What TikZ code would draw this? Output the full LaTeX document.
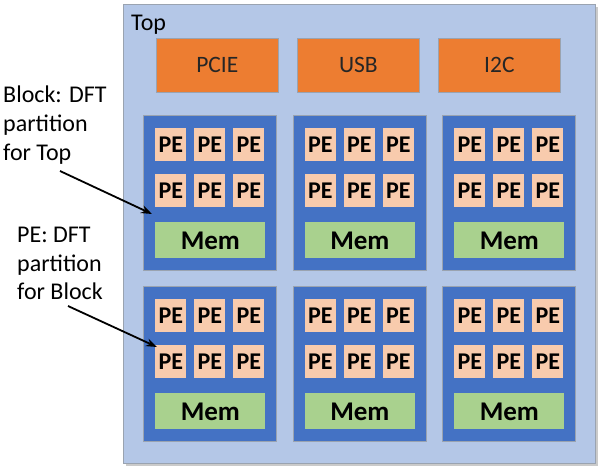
\documentclass[tikz,border=0pt]{standalone}
\usepackage{fontspec}
\setmainfont{Carlito}
\usetikzlibrary{shadows,arrows.meta}
\definecolor{topbg}{HTML}{B4C7E7}
\definecolor{ioor}{HTML}{ED7D31}
\definecolor{blkblue}{HTML}{4472C4}
\definecolor{pepeach}{HTML}{F8CBAD}
\definecolor{memgreen}{HTML}{A9D18E}
\definecolor{edgegray}{HTML}{9AA3B0}
\definecolor{txtdark}{HTML}{262626}
\begin{document}
\begin{tikzpicture}[x=1pt,y=-1pt,
  box/.style={draw=edgegray, line width=0.7pt, inner sep=0pt, anchor=north west},
  topbox/.style={box, fill=topbg, minimum width=472pt, minimum height=459pt,
    drop shadow={shadow xshift=2.5pt, shadow yshift=-2.5pt, opacity=0.35, fill=black!60}},
  iobox/.style={box, fill=ioor, minimum width=122pt, minimum height=54pt,
    text=txtdark, font=\fontsize{23.5}{26}\selectfont},
  blk/.style={box, fill=blkblue, minimum width=133pt, minimum height=155pt},
  pe/.style={box, fill=pepeach, draw=none, minimum width=31pt, minimum height=33pt,
    text=black, font=\bfseries\fontsize{24}{26}\selectfont},
  mem/.style={box, fill=memgreen, draw=none, minimum width=110pt, minimum height=36pt,
    text=black, font=\bfseries\fontsize{27}{30}\selectfont},
  lbl/.style={anchor=base west, inner sep=0pt, text=black, font=\fontsize{24}{29}\selectfont},
  arr/.style={-{Stealth[length=11pt,width=8pt]}, line width=1.8pt, black}
]
\useasboundingbox (0,0) rectangle (600,474);
\node[topbox] (top) at (123,4) {};
\node[anchor=base west, inner sep=0pt, font=\fontsize{24}{28}\selectfont, text=black] (toplbl) at (131,30) {Top};
\node[iobox] (pcie) at (156,38) {PCIE};
\node[iobox] (usb) at (297,38) {USB};
\node[iobox] (i2c) at (438,38) {I2C};
\foreach \c in {0,1,2} {
  \foreach \r in {0,1} {
    \pgfmathsetmacro\bx{143+149.5*\c}
    \pgfmathsetmacro\by{115+171*\r}
    \node[blk] (b\r\c) at (\bx,\by) {};
    \foreach \i in {0,1,2} {
      \foreach \j in {0,1} {
        \node[pe] (p\r\c\j\i) at (\bx+12+39*\i, \by+13+46*\j) {PE};
      }
    }
    \node[mem] (m\r\c) at (\bx+12,\by+107) {Mem};
  }
}
\node[lbl] (l1a) at (3,102) {Block: DFT};
\node[lbl] (l1b) at (3,131) {partition};
\node[lbl] (l1c) at (3,160) {for Top};
\node[lbl] (l2a) at (17,242) {PE: DFT};
\node[lbl] (l2b) at (17,271) {partition};
\node[lbl] (l2c) at (17,299) {for Block};
\coordinate (a1s) at (60,171);
\coordinate (a1e) at (152,214);
\coordinate (a2s) at (68,306);
\coordinate (a2e) at (157,347);
\draw[arr] (a1s) -- (a1e);
\draw[arr] (a2s) -- (a2e);
\end{tikzpicture}
\end{document}
